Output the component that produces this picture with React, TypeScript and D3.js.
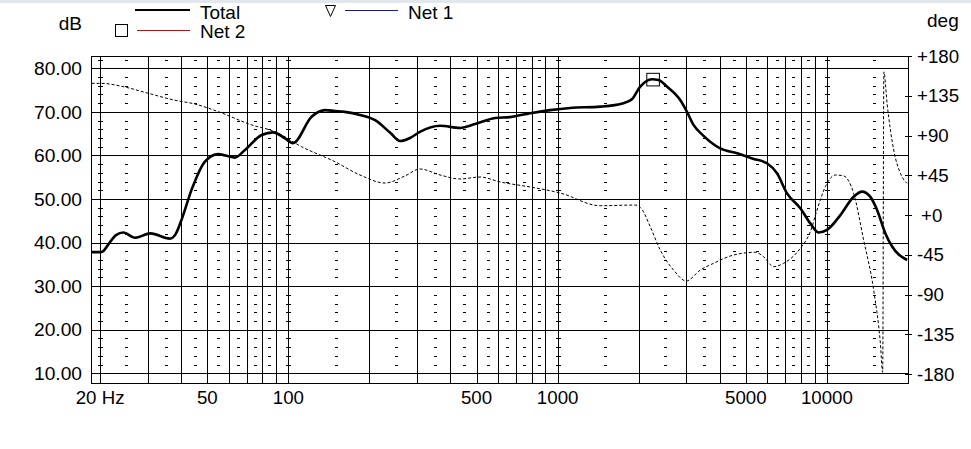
import React from "react";
import * as d3 from "d3";

// ---------- data ----------
const totalFreq = [18.5, 20, 20.5, 21.7, 22.9, 24.4, 26.9, 30.8, 36.3, 38.2, 40.1, 43.7, 49, 54.9, 63.3, 69, 79.6, 87.9, 97.2, 104, 122, 137, 149, 162, 184.5, 210, 239, 260, 283, 308, 366, 434, 494, 586, 666, 791, 938, 1113, 1439, 1756, 1887, 2026, 2239, 2369, 2546, 2853, 3022, 3196, 3482, 4017, 4635, 5342, 5989, 6524, 7109, 7964, 8676, 9316, 10010, 11218, 12566, 13502, 14496, 15352, 16482, 17458, 19848];
const totalDb = [37.8, 37.8, 38.0, 40.0, 41.7, 42.3, 41.1, 42.1, 40.9, 42.0, 45.2, 52.1, 58.6, 60.3, 59.5, 61.25, 64.7, 65.3, 63.9, 62.8, 68.9, 70.4, 70.2, 70.0, 69.3, 68.1, 65.2, 63.3, 64.0, 65.4, 66.8, 66.3, 67.2, 68.6, 68.8, 69.7, 70.4, 70.9, 71.2, 72.0, 72.9, 75.8, 77.5, 77.3, 75.8, 72.7, 70.0, 67.0, 64.5, 61.6, 60.5, 59.2, 58.2, 55.9, 51.3, 47.9, 44.4, 42.3, 42.9, 46.3, 50.5, 51.7, 50.5, 47.5, 42.1, 39.1, 36.0];

const phaseFreq = [18.6, 20.2, 24.6, 29.6, 37.8, 44.9, 54.9, 73, 89.2, 112, 149, 184.5, 228.6, 271, 308, 366, 434, 515, 612, 791, 1022, 1439, 1941, 2056, 2207, 2404, 2694, 3003, 3386, 3793, 4501, 5420, 5818, 6338, 6902, 7964, 8676, 9188, 9864, 10746, 11535, 12566, 13687, 14913, 15792, 16107, 16272, 16722, 17700, 18740, 19816];
const phaseDeg = [149, 149, 145, 138.5, 130, 125.7, 117, 102, 94.3, 77.3, 60.3, 45.3, 36.2, 44.2, 52.1, 45.3, 40.8, 43, 37.4, 31.7, 24.9, 10.5, 11.3, 6.4, -13.2, -39.6, -62.3, -74.7, -62.3, -54.7, -45.3, -42.2, -47.2, -58.5, -54.7, -37.7, -18.9, 5.7, 32, 45.3, 44.2, 24.6, -28.3, -84.9, -145.2, -178, 162, 126.5, 73.6, 47.2, 35.9];

const markerFreq = 2262;
const markerDb = 77.4;

const dbTicks = [10, 20, 30, 40, 50, 60, 70, 80];
const degTicks = [180, 135, 90, 45, 0, -45, -90, -135, -180];
const degLabels = ["+180", "+135", "+90", "+45", "+0", "-45", "-90", "-135", "-180"];
const freqTicks = [20, 50, 100, 500, 1000, 5000, 10000];
const freqLabels = ["20 Hz", "50", "100", "500", "1000", "5000", "10000"];

const FONT = "'Liberation Sans', Arial, sans-serif";

export default function App() {
  const W = 971, H = 449;
  const left = 91, right = 908, top = 56, bottom = 383;

  const x = d3.scaleLog().domain([18.5, 20000]).range([left, right]);
  const y = d3.scaleLinear().domain([7.77, 82.82]).range([bottom, top]);
  const yp = d3.scaleLinear().domain([-180, 180]).range([374, top]);

  // grid lines
  const vLines: number[] = [];
  for (let dec = 10; dec <= 10000; dec *= 10) {
    for (let m = 1; m <= 9; m++) {
      const f = dec * m;
      if (f >= 20 && f < 20000) vLines.push(f);
    }
  }
  const decadeLines = [20, 100, 1000, 10000];
  const minorCols: number[] = [];
  for (let dec = 10; dec <= 10000; dec *= 10) {
    for (let m = 1; m <= 8; m++) {
      const f = dec * (m + 0.5);
      if (f > 20 && f < 20000) minorCols.push(f);
    }
  }
  const minorDb: number[] = [];
  for (let v = 12; v <= 82; v += 2) if (v % 10 !== 0) minorDb.push(v);

  const px = (v: number) => Math.round(v) + 0.5;

  const totalLine = d3
    .line<number>()
    .x((_, i) => x(totalFreq[i]))
    .y((d) => y(d))
    .curve(d3.curveMonotoneX);
  const phaseLine = d3
    .line<number>()
    .x((_, i) => x(phaseFreq[i]))
    .y((d) => yp(d))
    .curve(d3.curveMonotoneX);

  return (
    <svg
      width={W}
      height={H}
      style={{ position: "absolute", left: 0, top: 0, background: "#fff" }}
      fontFamily={FONT}
    >
      <rect x={0} y={0} width={W} height={H} fill="#fff" />
      <rect x={0} y={0} width={W} height={3} fill="#e2e7ee" />

      {/* legend */}
      <g fontSize={19} fill="#000">
        <line x1={135} x2={190} y1={10} y2={10} stroke="#000" strokeWidth={2.2} />
        <text x={200} y={18.5}>Total</text>
        <rect x={115.5} y={24.5} width={12} height={12} fill="none" stroke="#000" strokeWidth={1} />
        <line x1={137} x2={190} y1={30.5} y2={30.5} stroke="#a01818" strokeWidth={1} />
        <text x={200} y={37.5}>Net 2</text>
        <path d="M325.5,5.5 L335.5,5.5 L330.5,16.5 Z" fill="none" stroke="#000" strokeWidth={1} />
        <line x1={345} x2={398} y1={10.5} y2={10.5} stroke="#1a1a80" strokeWidth={1} />
        <text x={408} y={18.5}>Net 1</text>
        <text x={82} y={30} textAnchor="end">dB</text>
        <text x={927} y={27}>deg</text>
      </g>

      {/* grid */}
      <g stroke="#000" strokeWidth={1} shapeRendering="crispEdges">
        {dbTicks.map((v) => (
          <line key={"h" + v} x1={left} x2={right} y1={px(y(v))} y2={px(y(v))} />
        ))}
        {vLines.map((f) => (
          <line key={"v" + f} x1={px(x(f))} x2={px(x(f))} y1={top} y2={bottom} />
        ))}
        {minorCols.map((f) =>
          minorDb.map((v) => (
            <line
              key={"m" + f + "_" + v}
              x1={Math.round(x(f)) - 1}
              x2={Math.round(x(f)) + 2}
              y1={px(y(v))}
              y2={px(y(v))}
            />
          ))
        )}
        {decadeLines.map((f) =>
          minorDb.map((v) => (
            <line
              key={"d" + f + "_" + v}
              x1={Math.round(x(f)) - 2}
              x2={Math.round(x(f)) + 3}
              y1={px(y(v))}
              y2={px(y(v))}
            />
          ))
        )}
        {degTicks.map((d) => (
          <line key={"r" + d} x1={right - 3} x2={right + 4} y1={px(yp(d))} y2={px(yp(d))} />
        ))}
        <rect x={left + 0.5} y={top + 0.5} width={right - left} height={bottom - top} fill="none" />
      </g>

      {/* curves */}
      <path d={phaseLine(phaseDeg) || ""} fill="none" stroke="#000" strokeWidth={1} strokeDasharray="3 2" />
      <path d={totalLine(totalDb) || ""} fill="none" stroke="#000" strokeWidth={2.6} strokeLinejoin="round" />
      <rect
        x={x(markerFreq) - 6.3}
        y={y(markerDb) - 6.3}
        width={12.6}
        height={12.6}
        fill="none"
        stroke="#000"
        strokeWidth={1}
      />

      {/* axis labels */}
      <g fontSize={19.2} fill="#000">
        {dbTicks.map((v) => (
          <text key={"l" + v} x={82} y={y(v)} dy="0.35em" textAnchor="end">
            {v.toFixed(2)}
          </text>
        ))}
      </g>
      <g fontSize={18.7} fill="#000">
        {freqTicks.map((f, i) => (
          <text key={"b" + f} x={x(f)} y={403.5} textAnchor="middle">
            {freqLabels[i]}
          </text>
        ))}
        {degTicks.map((d, i) => (
          <text key={"p" + d} x={d === 0 ? 921 : 917} y={yp(d)} dy="0.35em">
            {degLabels[i]}
          </text>
        ))}
      </g>
    </svg>
  );
}
